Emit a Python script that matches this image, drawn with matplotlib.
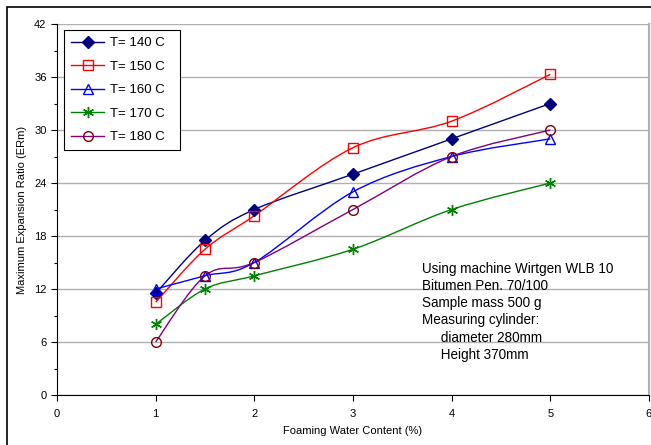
import matplotlib.pyplot as plt
from matplotlib.path import Path
from matplotlib.patches import PathPatch, Rectangle
from matplotlib.lines import Line2D
from matplotlib.ticker import MultipleLocator
import numpy as np

plt.rcParams['font.family'] = ['Liberation Sans', 'DejaVu Sans']

# data
water = [1, 1.5, 2, 3, 4, 5]
temps = ['140', '150', '160', '170', '180']
er_140 = [11.5, 17.5, 21.0, 25.0, 29.0, 33.0]
er_150 = [10.5, 16.5, 20.3, 28.0, 31.0, 36.3]
er_160 = [12.0, 13.5, 15.0, 23.0, 27.0, 29.0]
er_170 = [8.0, 12.0, 13.5, 16.5, 21.0, 24.0]
er_180 = [6.0, 13.5, 15.0, 21.0, 27.0, 30.0]
note = ("Using machine Wirtgen WLB 10\nBitumen Pen. 70/100\nSample mass 500 g\n"
        "Measuring cylinder:\n     diameter 280mm\n     Height 370mm")

series = [er_140, er_150, er_160, er_170, er_180]
line_cols = ['#000080', '#FF0000', '#0000FF', '#008000', '#800080']
mark_cols = ['#000080', '#FF0000', '#0000FF', '#008000', '#800000']
markers = ['D', 's', '^', (6, 2, 0), 'o']
sizes = [6, 7.5, 7.5, 8, 7]
filled = [True, False, False, True, False]


# smoothed line like the spreadsheet's "smoothed line" option
def smooth_path(x, y):
    p = np.column_stack([x, y]).astype(float)
    ext = np.vstack([p[0], p, p[-1]])
    verts = [p[0]]
    codes = [Path.MOVETO]
    for i in range(len(p) - 1):
        c1 = ext[i + 1] + (ext[i + 2] - ext[i]) / 6
        c2 = ext[i + 2] - (ext[i + 3] - ext[i + 1]) / 6
        verts += [c1, c2, ext[i + 2]]
        codes += [Path.CURVE4] * 3
    return Path(verts, codes)


fig = plt.figure(figsize=(6.51, 4.45), dpi=100)
ax = fig.add_axes([57 / 651, 50 / 445, 592 / 651, 371 / 445])

handles = []
for vals, t, lc, mc, mk, ms, fl in zip(series, temps, line_cols, mark_cols, markers, sizes, filled):
    ax.add_patch(PathPatch(smooth_path(water, vals), facecolor='none', edgecolor=lc, lw=1, zorder=3))
    ax.plot(water, vals, linestyle='none', marker=mk, ms=ms, mec=mc,
            mfc=mc if fl else 'none', mew=1, zorder=4)
    handles.append(Line2D([], [], color=lc, lw=1, marker=mk, ms=ms, mec=mc,
                          mfc=mc if fl else 'none', mew=1, label='T= ' + t + ' C'))

ax.set_xlim(0, 6)
ax.set_ylim(0, 42)
ax.xaxis.set_major_locator(MultipleLocator(1))
ax.yaxis.set_major_locator(MultipleLocator(6))
ax.yaxis.set_minor_locator(MultipleLocator(3))
ax.grid(axis='y', color='#b0b0b0', lw=1)
ax.set_axisbelow(True)
ax.tick_params(labelsize=8, direction='out', length=4, width=0.8)
ax.tick_params(which='minor', length=2.5, width=0.8)
ax.tick_params(axis='x', pad=6)
ax.spines['top'].set_visible(False)
ax.spines['right'].set_color('#b0b0b0')
ax.spines['right'].set_linewidth(1.5)
ax.set_xlabel('Foaming Water Content (%)', fontsize=8, labelpad=5)
ax.set_ylabel('Maximum Expansion Ratio (ERm)', fontsize=8, labelpad=5)

leg = ax.legend(handles=handles, loc='upper left',
                bbox_to_anchor=(0.012, 0.984, 0.196, 0), mode='expand',
                borderaxespad=0, fontsize=9.5, fancybox=False, edgecolor='black',
                framealpha=1, handlelength=2.5, labelspacing=0.85, borderpad=0.55,
                handletextpad=0.4)
leg.get_frame().set_linewidth(0.8)

ax.text(0.616, 0.358, note, transform=ax.transAxes, fontsize=9.75, va='top',
        ha='left', linespacing=1.28)

fig.patches.append(Rectangle((7 / 651, -0.01), 1, 1 - 7 / 445 + 0.01, transform=fig.transFigure,
                             fill=False, edgecolor='black', lw=1.2))

fig.savefig('out.png', dpi=100)
